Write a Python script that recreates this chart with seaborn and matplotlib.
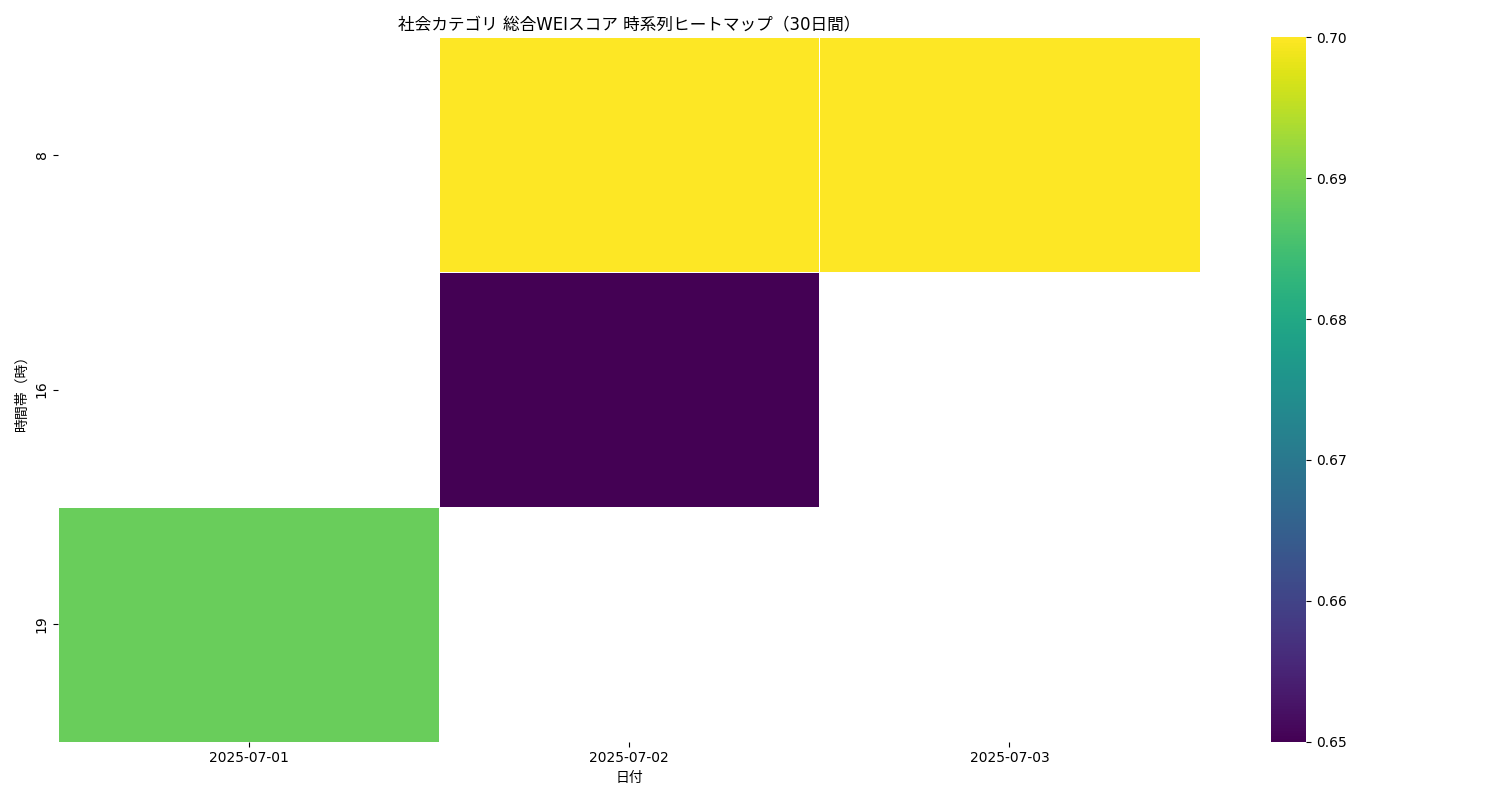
import numpy as np
import pandas as pd
import matplotlib
matplotlib.use("Agg")
import matplotlib.pyplot as plt
import seaborn as sns

dates = ["2025-07-01", "2025-07-02", "2025-07-03"]
hours = [8, 16, 19]
values = [
    [np.nan, 0.70, 0.70],
    [np.nan, 0.65, np.nan],
    [0.6885, np.nan, np.nan],
]

plt.rcParams['font.family'] = ['DejaVu Sans', 'Noto Sans CJK JP']

df = pd.DataFrame(values, index=hours, columns=dates)

fig, ax = plt.subplots(figsize=(15, 8), dpi=100)
sns.heatmap(df, cmap="viridis", ax=ax, linewidths=0.5, linecolor="white",
            vmin=0.65, vmax=0.70)
ax.set_title("社会カテゴリ 総合WEIスコア 時系列ヒートマップ（30日間）")
ax.set_xlabel("日付")
ax.set_ylabel("時間帯（時）")
plt.tight_layout()
fig.savefig("out.png", dpi=100)
